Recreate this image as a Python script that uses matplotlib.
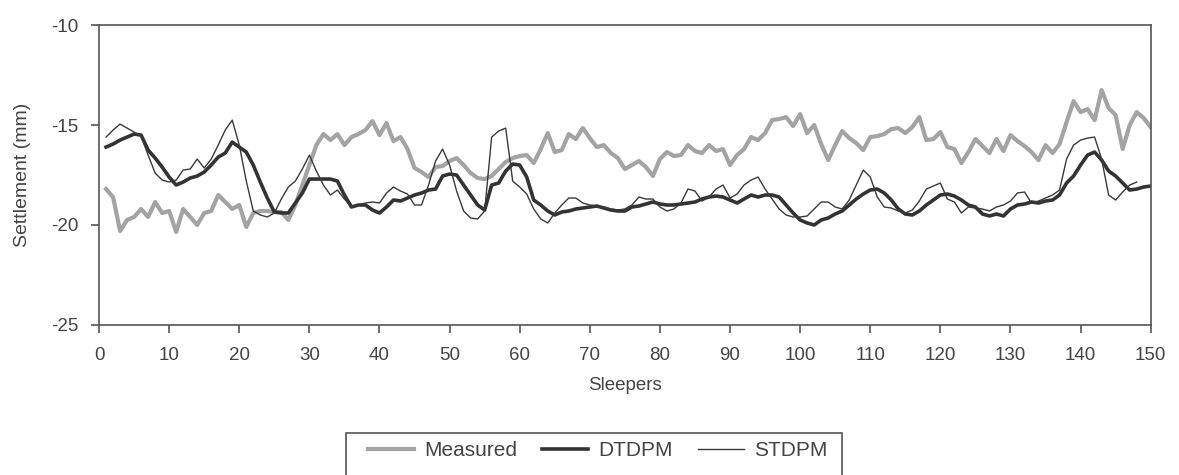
import numpy as np
import matplotlib
matplotlib.use("Agg")
import matplotlib.pyplot as plt
from matplotlib.patches import Rectangle

plt.rcParams['font.family'] = ['Liberation Sans', 'DejaVu Sans']
plt.rcParams['axes.unicode_minus'] = False

# sleeper number 1..150
sleepers = np.arange(1, 151)

measured = [
    -18.2, -18.6, -20.3, -19.75, -19.6, -19.2, -19.6, -18.85, -19.4, -19.3,
    -20.35, -19.2, -19.6, -20.0, -19.4, -19.3, -18.5, -18.85, -19.2, -19.0,
    -20.1, -19.4, -19.3, -19.3, -19.35, -19.35, -19.75, -19.0, -18.0, -17.0,
    -16.0, -15.45, -15.75, -15.45, -16.0, -15.6, -15.45, -15.25, -14.8, -15.5,
    -14.9, -15.8, -15.6, -16.2, -17.15, -17.35, -17.6, -17.1, -17.05, -16.8,
    -16.65, -17.0, -17.4, -17.65, -17.7, -17.55, -17.2, -16.85, -16.65, -16.55,
    -16.5, -16.9, -16.2, -15.4, -16.35, -16.25, -15.45, -15.7, -15.15, -15.65,
    -16.1, -16.0, -16.4, -16.65, -17.2, -17.0, -16.8, -17.1, -17.55, -16.7,
    -16.35, -16.55, -16.5, -16.0, -16.3, -16.4, -16.0, -16.3, -16.2, -17.0,
    -16.5, -16.2, -15.6, -15.75, -15.4, -14.75, -14.7, -14.6, -15.05, -14.45,
    -15.4, -15.0, -15.95, -16.75, -16.0, -15.3, -15.65, -15.9, -16.25, -15.6,
    -15.55, -15.45, -15.2, -15.15, -15.4, -15.1, -14.6, -15.75, -15.7, -15.35,
    -16.1, -16.2, -16.9, -16.35, -15.7, -16.05, -16.4, -15.7, -16.3, -15.5,
    -15.8, -16.05, -16.35, -16.75, -16.0, -16.4, -15.95, -14.85, -13.8, -14.35,
    -14.2, -14.75, -13.25, -14.15, -14.5, -16.2, -15.0, -14.35, -14.65, -15.1,
]

dtdpm = [
    -16.1, -15.95, -15.75, -15.6, -15.45, -15.5, -16.25, -16.65, -17.1, -17.6,
    -18.0, -17.85, -17.65, -17.55, -17.35, -17.0, -16.6, -16.4, -15.85, -16.1,
    -16.35, -17.0, -17.85, -18.65, -19.35, -19.4, -19.4, -18.9, -18.4, -17.7,
    -17.7, -17.7, -17.7, -17.8, -18.5, -19.1, -19.0, -19.0, -19.25, -19.4,
    -19.1, -18.75, -18.8, -18.65, -18.5, -18.4, -18.25, -18.2, -17.55, -17.45,
    -17.5, -18.0, -18.5, -19.0, -19.25, -18.0, -17.9, -17.3, -16.95, -17.0,
    -17.6, -18.75, -19.0, -19.3, -19.5, -19.35, -19.3, -19.2, -19.15, -19.1,
    -19.05, -19.15, -19.25, -19.3, -19.3, -19.1, -19.05, -18.95, -18.85, -18.95,
    -19.0, -19.0, -18.95, -18.9, -18.85, -18.7, -18.6, -18.55, -18.6, -18.75,
    -18.9, -18.7, -18.5, -18.6, -18.5, -18.5, -18.6, -19.0, -19.4, -19.75,
    -19.9, -20.0, -19.75, -19.65, -19.45, -19.3, -19.0, -18.7, -18.45, -18.25,
    -18.2, -18.4, -18.75, -19.2, -19.45, -19.5, -19.3, -19.0, -18.75, -18.5,
    -18.45, -18.55, -18.75, -19.0, -19.1, -19.45, -19.55, -19.45, -19.55, -19.2,
    -19.0, -18.95, -18.85, -18.9, -18.8, -18.75, -18.5, -17.9, -17.55, -17.0,
    -16.5, -16.35, -16.75, -17.3, -17.55, -17.9, -18.25, -18.2, -18.1, -18.05,
]

# STDPM stops at sleeper 148
stdpm = [
    -15.6, -15.25, -14.95, -15.15, -15.35, -15.55, -16.5, -17.4, -17.75, -17.85,
    -17.75, -17.25, -17.2, -16.7, -17.15, -16.7, -16.0, -15.25, -14.75, -16.0,
    -17.8, -19.3, -19.5, -19.6, -19.4, -18.7, -18.1, -17.8, -17.2, -16.5,
    -17.3, -18.0, -18.5, -18.25, -18.7, -19.1, -19.0, -18.9, -18.85, -18.9,
    -18.4, -18.1, -18.3, -18.45, -19.0, -19.0, -18.0, -16.8, -16.2, -17.0,
    -18.3, -19.3, -19.65, -19.7, -19.3, -15.6, -15.3, -15.15, -17.8, -18.1,
    -18.45, -19.2, -19.7, -19.9, -19.4, -19.0, -18.65, -18.65, -18.9, -19.0,
    -19.05, -19.1, -19.2, -19.25, -19.2, -19.0, -18.6, -18.7, -18.7, -19.1,
    -19.3, -19.2, -18.9, -18.2, -18.3, -18.8, -18.6, -18.2, -18.0, -18.65,
    -18.45, -18.0, -17.75, -17.6, -18.2, -18.7, -19.2, -19.5, -19.6, -19.6,
    -19.55, -19.2, -18.85, -18.85, -19.1, -19.2, -18.75, -18.0, -17.25, -17.6,
    -18.6, -19.1, -19.15, -19.3, -19.4, -19.25, -18.8, -18.2, -18.05, -17.9,
    -18.7, -18.85, -19.4, -19.1, -19.15, -19.2, -19.3, -19.1, -19.0, -18.8,
    -18.4, -18.35, -18.9, -18.8, -18.65, -18.5, -18.25, -16.7, -16.0, -15.75,
    -15.65, -15.6, -16.7, -18.5, -18.75, -18.35, -18.0, -17.85, np.nan, np.nan,
]

fig = plt.figure(figsize=(11.79, 4.75), dpi=100)
ax = fig.add_axes([0.084, 0.316, 0.892, 0.631])

ax.plot(sleepers, measured, color='#a3a3a3', lw=3.0, label='Measured', solid_joinstyle='round')
ax.plot(sleepers, dtdpm, color='#333333', lw=2.6, label='DTDPM', solid_joinstyle='round')
ax.plot(sleepers, stdpm, color='#3a3a3a', lw=1.0, label='STDPM')

ax.set_xlim(0, 150)
ax.set_ylim(-25, -10)
ax.set_xticks(np.arange(0, 151, 10))
ax.set_yticks(np.arange(-25, -9, 5))

for sp in ax.spines.values():
    sp.set_color('#555555')
    sp.set_linewidth(1.2)
ax.tick_params(direction='out', length=6, width=1.2, color='#555555',
               labelsize=13.5, labelcolor='#444444')
ax.tick_params(axis='x', pad=10)
ax.tick_params(axis='y', pad=9)

ax.set_xlabel('Sleepers', fontsize=13.5, color='#444444', labelpad=9)
ax.set_ylabel('Settlement (mm)', fontsize=14, color='#444444', labelpad=14)

# legend box, cut by the lower edge like the original
fig.patches.append(Rectangle((346 / 1179, -0.05), (842 - 346) / 1179, 0.05 + (475 - 433) / 475,
                             transform=fig.transFigure, fill=False,
                             edgecolor='#555555', lw=1.2))
leg = fig.legend(loc='center left', bbox_to_anchor=(349 / 1179, 1 - 451 / 475),
                 ncol=3, frameon=False, fontsize=15, handlelength=2.2,
                 columnspacing=1.2, handletextpad=0.5, labelcolor='#444444')

fig.savefig('out.png', dpi=100)
